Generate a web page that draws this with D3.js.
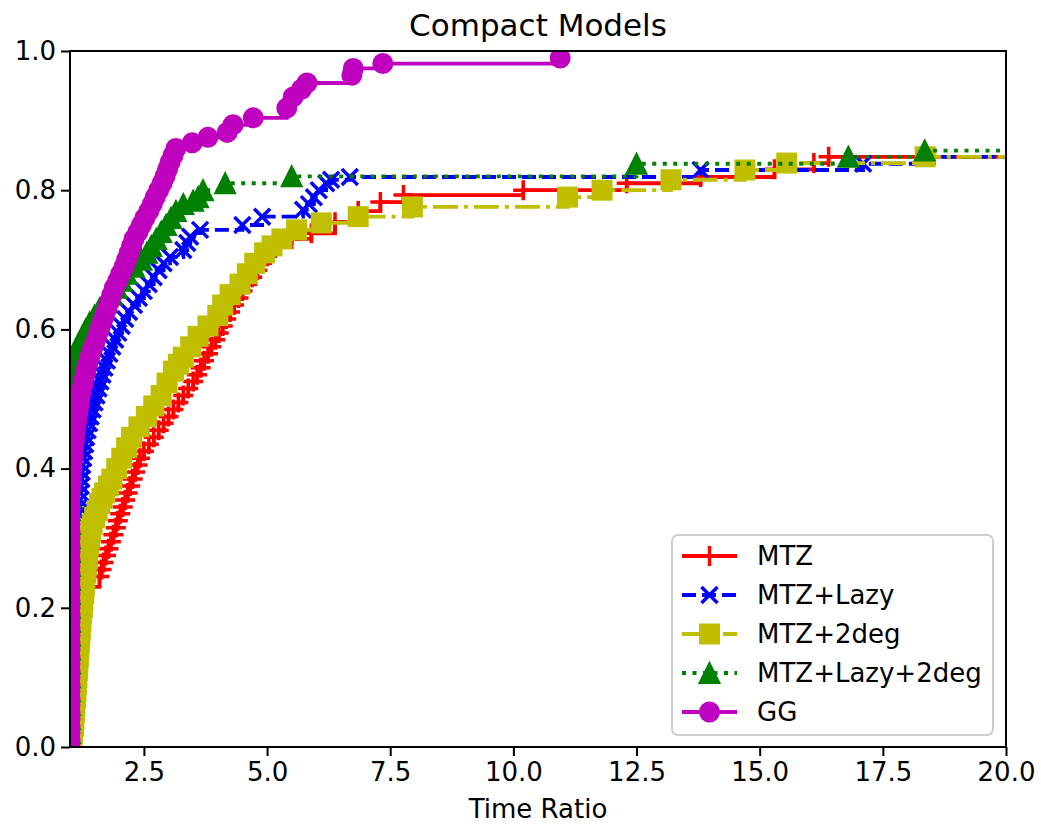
<!DOCTYPE html>
<html>
<head>
<meta charset="utf-8">
<script src="https://cdn.jsdelivr.net/npm/d3@7"></script>
<style>
  body { margin: 0; background: #fff; }
  svg { display: block; font-family: "DejaVu Sans", sans-serif; }
</style>
</head>
<body>
<svg id="chart" width="1041" height="831"></svg>
<script>
// performance profile data: [time ratio, fraction solved]
const mtz = [[1.04,0.01],[1.06,0.03],[1.09,0.05],[1.11,0.07],[1.13,0.09],[1.15,0.11],[1.17,0.13],[1.19,0.15],[1.21,0.17],[1.24,0.19],[1.27,0.21],[1.31,0.23],[1.6,0.245],[1.64,0.255],[1.68,0.265],[1.73,0.275],[1.78,0.285],[1.83,0.295],[1.88,0.305],[1.93,0.315],[1.97,0.325],[2.02,0.335],[2.07,0.345],[2.12,0.355],[2.17,0.365],[2.22,0.375],[2.27,0.385],[2.32,0.395],[2.37,0.405],[2.42,0.415],[2.5,0.425],[2.6,0.435],[2.7,0.445],[2.8,0.455],[2.9,0.465],[3.0,0.475],[3.1,0.485],[3.2,0.495],[3.3,0.505],[3.4,0.515],[3.5,0.525],[3.58,0.535],[3.65,0.545],[3.72,0.555],[3.8,0.565],[3.87,0.575],[3.95,0.585],[4.02,0.595],[4.1,0.605],[4.17,0.615],[4.25,0.625],[4.33,0.635],[4.42,0.645],[4.5,0.655],[4.6,0.665],[4.7,0.675],[4.8,0.685],[4.9,0.695],[5.0,0.705],[5.1,0.715],[5.25,0.725],[5.5,0.73],[5.9,0.738],[6.38,0.754],[6.85,0.77],[7.3,0.783],[7.77,0.793],[10.2,0.8],[12.3,0.81],[13.8,0.819],[15.3,0.83],[16.1,0.839],[16.4,0.848],[22,0.848]];
const mtzLazy = [[1.18,0.335],[1.19,0.345],[1.2,0.355],[1.21,0.365],[1.22,0.375],[1.23,0.385],[1.24,0.395],[1.25,0.405],[1.27,0.415],[1.29,0.425],[1.31,0.435],[1.33,0.445],[1.36,0.455],[1.39,0.465],[1.42,0.475],[1.46,0.485],[1.5,0.495],[1.54,0.505],[1.58,0.515],[1.62,0.525],[1.66,0.535],[1.7,0.545],[1.75,0.555],[1.8,0.565],[1.86,0.575],[1.92,0.585],[1.98,0.595],[2.05,0.605],[2.12,0.615],[2.2,0.625],[2.3,0.635],[2.4,0.645],[2.5,0.655],[2.6,0.665],[2.7,0.675],[2.8,0.685],[2.9,0.695],[3.03,0.704],[3.3,0.714],[3.38,0.724],[3.44,0.733],[3.64,0.743],[4.5,0.75],[4.9,0.762],[5.73,0.772],[5.85,0.78],[5.95,0.79],[6.05,0.8],[6.2,0.81],[6.3,0.815],[6.68,0.819],[13.8,0.829],[17.1,0.838],[18.4,0.848],[22,0.848]];
const mtz2deg = [[1.02,0.0],[1.04,0.01],[1.05,0.02],[1.07,0.03],[1.08,0.04],[1.09,0.05],[1.1,0.06],[1.11,0.07],[1.12,0.08],[1.13,0.09],[1.14,0.1],[1.15,0.11],[1.16,0.12],[1.17,0.13],[1.18,0.14],[1.19,0.15],[1.2,0.16],[1.21,0.17],[1.22,0.18],[1.23,0.19],[1.25,0.2],[1.26,0.21],[1.28,0.22],[1.29,0.23],[1.3,0.24],[1.32,0.25],[1.33,0.26],[1.35,0.27],[1.36,0.28],[1.38,0.29],[1.4,0.3],[1.42,0.31],[1.45,0.32],[1.5,0.33],[1.55,0.34],[1.6,0.35],[1.65,0.357],[1.7,0.365],[1.78,0.375],[1.85,0.385],[1.95,0.4],[2.05,0.415],[2.15,0.43],[2.25,0.445],[2.4,0.46],[2.55,0.475],[2.7,0.49],[2.85,0.505],[2.97,0.523],[3.1,0.54],[3.2,0.55],[3.3,0.56],[3.45,0.575],[3.6,0.59],[3.8,0.605],[4.0,0.62],[4.1,0.635],[4.25,0.65],[4.45,0.665],[4.6,0.68],[4.75,0.695],[4.95,0.71],[5.1,0.72],[5.3,0.73],[5.6,0.743],[6.1,0.753],[6.85,0.762],[7.95,0.776],[11.1,0.79],[11.8,0.8],[13.2,0.815],[14.7,0.829],[15.55,0.839],[18.36,0.848],[22,0.848]];
const mtzLazy2deg = [[1.0,0.0],[1.0,0.02],[1.0,0.04],[1.0,0.06],[1.0,0.08],[1.0,0.1],[1.0,0.12],[1.0,0.14],[1.0,0.16],[1.0,0.18],[1.0,0.2],[1.0,0.22],[1.0,0.24],[1.0,0.26],[1.0,0.28],[1.0,0.3],[1.0,0.32],[1.0,0.34],[1.0,0.36],[1.0,0.38],[1.0,0.4],[1.0,0.42],[1.0,0.44],[1.0,0.46],[1.0,0.48],[1.0,0.5],[1.0,0.52],[1.0,0.53],[1.02,0.54],[1.04,0.55],[1.08,0.56],[1.12,0.57],[1.18,0.58],[1.25,0.59],[1.32,0.6],[1.4,0.61],[1.5,0.62],[1.6,0.63],[1.72,0.64],[1.85,0.65],[1.95,0.66],[2.05,0.67],[2.15,0.68],[2.3,0.69],[2.45,0.7],[2.56,0.71],[2.65,0.72],[2.75,0.73],[2.85,0.74],[2.95,0.75],[3.05,0.76],[3.15,0.77],[3.3,0.78],[3.5,0.785],[3.6,0.79],[3.7,0.8],[4.15,0.81],[5.5,0.82],[12.5,0.838],[16.8,0.848],[18.35,0.857],[22,0.857]];
const gg = [[1.0,0.0],[1.0,0.01],[1.0,0.02],[1.0,0.03],[1.0,0.04],[1.0,0.05],[1.0,0.06],[1.0,0.07],[1.0,0.08],[1.0,0.09],[1.0,0.1],[1.0,0.11],[1.0,0.12],[1.0,0.13],[1.0,0.14],[1.0,0.15],[1.0,0.16],[1.0,0.17],[1.0,0.18],[1.0,0.19],[1.0,0.2],[1.0,0.21],[1.0,0.22],[1.0,0.23],[1.0,0.24],[1.0,0.25],[1.0,0.26],[1.0,0.27],[1.0,0.28],[1.0,0.29],[1.0,0.3],[1.0,0.31],[1.0,0.32],[1.0,0.33],[1.0,0.34],[1.0,0.35],[1.0,0.36],[1.01,0.37],[1.02,0.38],[1.03,0.39],[1.04,0.4],[1.05,0.41],[1.06,0.42],[1.07,0.43],[1.09,0.44],[1.1,0.45],[1.12,0.46],[1.14,0.47],[1.16,0.48],[1.18,0.49],[1.2,0.5],[1.23,0.51],[1.26,0.52],[1.29,0.53],[1.32,0.54],[1.36,0.55],[1.4,0.56],[1.45,0.57],[1.5,0.58],[1.55,0.59],[1.6,0.6],[1.65,0.61],[1.7,0.62],[1.75,0.63],[1.8,0.64],[1.85,0.65],[1.9,0.66],[1.97,0.67],[2.03,0.68],[2.1,0.69],[2.15,0.7],[2.2,0.71],[2.25,0.72],[2.3,0.73],[2.38,0.74],[2.45,0.75],[2.52,0.76],[2.6,0.77],[2.67,0.78],[2.73,0.79],[2.8,0.8],[2.87,0.81],[2.93,0.82],[2.98,0.83],[3.03,0.84],[3.09,0.85],[3.15,0.86],[3.48,0.868],[3.8,0.876],[4.19,0.883],[4.31,0.894],[4.72,0.904],[5.4,0.918],[5.53,0.934],[5.7,0.945],[5.81,0.954],[6.72,0.965],[6.75,0.975],[7.35,0.982],[10.95,0.99]];

const seriesNames = ["MTZ", "MTZ+Lazy", "MTZ+2deg", "MTZ+Lazy+2deg", "GG"];
const seriesData = [mtz, mtzLazy, mtz2deg, mtzLazy2deg, gg];
const seriesColors = ["#ff0000", "#0000ff", "#bfbf00", "#008000", "#bf00bf"];
const seriesDash = [null, "14,6", "25,6,4,6", "4,6.5", null];
const seriesMarkers = ["plus", "cross", "square", "triangle", "circle"];

const xTicks = [2.5, 5, 7.5, 10, 12.5, 15, 17.5, 20];
const yTicks = [0, 0.2, 0.4, 0.6, 0.8, 1.0];

const svg = d3.select("#chart");
const plotLeft = 70, plotRight = 1006, plotTop = 51, plotBottom = 747;
const x = d3.scaleLinear().domain([1, 20]).range([plotLeft, plotRight]);
const y = d3.scaleLinear().domain([0, 1]).range([plotBottom, plotTop]);

svg.append("defs").append("clipPath").attr("id", "plotclip")
  .append("rect")
  .attr("x", plotLeft).attr("y", plotTop)
  .attr("width", plotRight - plotLeft).attr("height", plotBottom - plotTop);

function drawMarker(g, type, color) {
  if (type === "plus") {
    g.append("path").attr("d", "M-10,0H10M0,-10V10")
      .attr("stroke", color).attr("stroke-width", 3.5).attr("fill", "none");
  } else if (type === "cross") {
    g.append("path").attr("d", "M-8,-8L8,8M-8,8L8,-8")
      .attr("stroke", color).attr("stroke-width", 3.5).attr("fill", "none");
  } else if (type === "square") {
    g.append("rect").attr("x", -9.5).attr("y", -9.5).attr("width", 19).attr("height", 19)
      .attr("fill", color).attr("stroke", color).attr("stroke-width", 2);
  } else if (type === "triangle") {
    g.append("path").attr("d", "M0,-10L-10,10L10,10Z")
      .attr("fill", color).attr("stroke", color).attr("stroke-width", 2).attr("stroke-linejoin", "miter");
  } else {
    g.append("circle").attr("r", 9.5)
      .attr("fill", color).attr("stroke", color).attr("stroke-width", 2);
  }
}

const line = d3.line()
  .x(d => x(d[0]))
  .y(d => y(d[1]))
  .curve(d3.curveStepAfter);

const plot = svg.append("g").attr("clip-path", "url(#plotclip)");

seriesData.forEach((data, i) => {
  const g = plot.append("g");
  g.append("path")
    .datum(data)
    .attr("d", line)
    .attr("fill", "none")
    .attr("stroke", seriesColors[i])
    .attr("stroke-width", 3.8)
    .attr("stroke-dasharray", seriesDash[i]);
  g.selectAll("g.mk")
    .data(data)
    .enter()
    .append("g")
    .attr("class", "mk")
    .attr("transform", d => `translate(${x(d[0])},${y(d[1])})`)
    .each(function () { drawMarker(d3.select(this), seriesMarkers[i], seriesColors[i]); });
});

// axes
const xAxis = svg.append("g")
  .attr("transform", `translate(0,${plotBottom})`)
  .call(d3.axisBottom(x).tickValues(xTicks).tickFormat(d3.format(".1f")).tickSize(9).tickPadding(7));
const yAxis = svg.append("g")
  .attr("transform", `translate(${plotLeft},0)`)
  .call(d3.axisLeft(y).tickValues(yTicks).tickFormat(d3.format(".1f")).tickSize(9).tickPadding(5));
[xAxis, yAxis].forEach(a => {
  a.select(".domain").remove();
  a.selectAll(".tick line").attr("stroke", "#000").attr("stroke-width", 2);
  a.selectAll(".tick text").attr("fill", "#000").style("font-size", "26px").style("font-family", "DejaVu Sans");
});

svg.append("rect")
  .attr("x", plotLeft).attr("y", plotTop)
  .attr("width", plotRight - plotLeft).attr("height", plotBottom - plotTop)
  .attr("fill", "none").attr("stroke", "#000").attr("stroke-width", 2);

svg.append("text")
  .attr("x", (plotLeft + plotRight) / 2).attr("y", 36)
  .attr("text-anchor", "middle")
  .style("font-size", "31px")
  .text("Compact Models");

svg.append("text")
  .attr("x", (plotLeft + plotRight) / 2).attr("y", 818)
  .attr("text-anchor", "middle")
  .style("font-size", "26px")
  .text("Time Ratio");

// legend
const legend = svg.append("g");
legend.append("rect")
  .attr("x", 672).attr("y", 535).attr("width", 321).attr("height", 200)
  .attr("rx", 6)
  .attr("fill", "#fff").attr("fill-opacity", 0.8)
  .attr("stroke", "#cccccc").attr("stroke-width", 2);

seriesNames.forEach((name, i) => {
  const ly = 556 + i * 39;
  const row = legend.append("g");
  row.append("line")
    .attr("x1", 682).attr("x2", 737).attr("y1", ly).attr("y2", ly)
    .attr("stroke", seriesColors[i]).attr("stroke-width", 3.8)
    .attr("stroke-dasharray", seriesDash[i]);
  const m = row.append("g").attr("transform", `translate(709.5,${ly})`);
  drawMarker(m, seriesMarkers[i], seriesColors[i]);
  row.append("text")
    .attr("x", 757).attr("y", ly + 9)
    .style("font-size", "26px")
    .text(name);
});
</script>
</body>
</html>
